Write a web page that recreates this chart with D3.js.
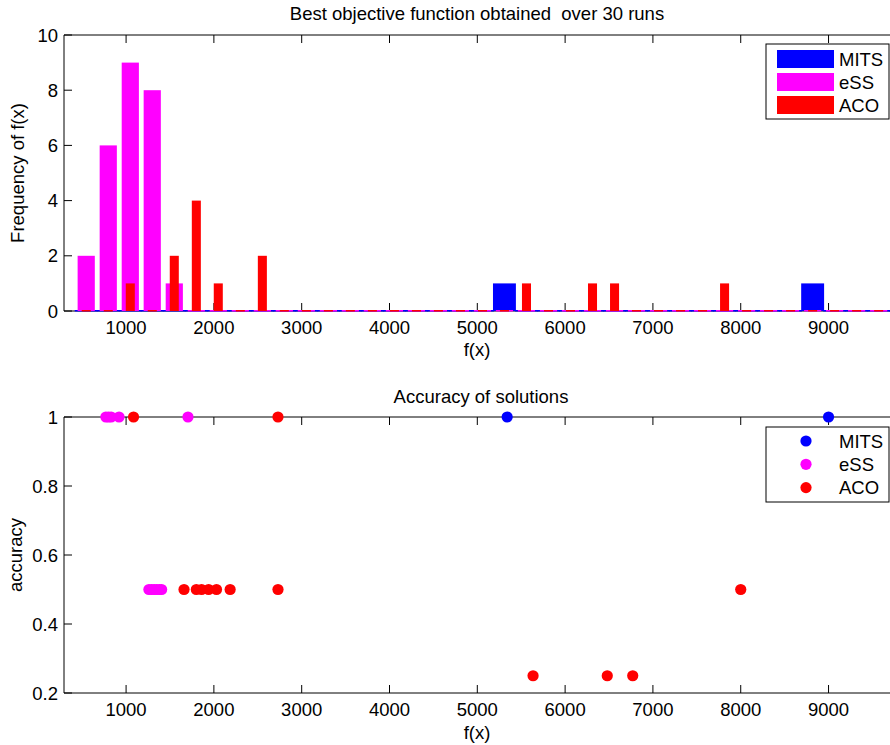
<!DOCTYPE html>
<html>
<head>
<meta charset="utf-8">
<script src="https://cdn.jsdelivr.net/npm/d3@7"></script>
<style>
  body { margin: 0; background: #fff; }
  svg { display: block; font-family: "Liberation Sans", Arial, sans-serif; }
</style>
</head>
<body>
<script>
// histogram bin centres of f(x)
var binCenters = [546, 797, 1048, 1298, 1549, 1800, 2050, 2301, 2552, 2802,
    3053, 3304, 3554, 3805, 4056, 4307, 4557, 4808, 5059, 5309,
    5560, 5811, 6061, 6312, 6563, 6813, 7064, 7315, 7565, 7816,
    8067, 8317, 8568, 8819, 9069, 9320, 9571, 9821];
// frequency per bin for each method
var mitsCounts = [0, 0, 0, 0, 0, 0, 0, 0, 0, 0, 0, 0, 0, 0, 0, 0, 0, 0, 0, 1,
    0, 0, 0, 0, 0, 0, 0, 0, 0, 0, 0, 0, 0, 1, 0, 0, 0, 0];
var essCounts = [2, 6, 9, 8, 1, 0, 0, 0, 0, 0, 0, 0, 0, 0, 0, 0, 0, 0, 0, 0,
    0, 0, 0, 0, 0, 0, 0, 0, 0, 0, 0, 0, 0, 0, 0, 0, 0, 0];
var acoCounts = [0, 0, 1, 0, 2, 4, 1, 0, 2, 0, 0, 0, 0, 0, 0, 0, 0, 0, 0, 0,
    1, 0, 0, 1, 1, 0, 0, 0, 0, 1, 0, 0, 0, 0, 0, 0, 0, 0];

// accuracy of solutions: f(x) and accuracy
var mitsFx = [5340, 9000];
var mitsAcc = [1, 1];
var essFx = [770, 800, 830, 920, 1705, 1260, 1290, 1320, 1350, 1380, 1405];
var essAcc = [1, 1, 1, 1, 1, 0.5, 0.5, 0.5, 0.5, 0.5, 0.5];
var acoFx = [1085, 2730, 1660, 1800, 1860, 1940, 2030, 2185, 2730, 8000, 5635, 6480, 6770];
var acoAcc = [1, 1, 0.5, 0.5, 0.5, 0.5, 0.5, 0.5, 0.5, 0.5, 0.25, 0.25, 0.25];

var xTicks = [1000, 2000, 3000, 4000, 5000, 6000, 7000, 8000, 9000];
var freqTicks = [0, 2, 4, 6, 8, 10];
var accTicks = [0.2, 0.4, 0.6, 0.8, 1];
var methods = ["MITS", "eSS", "ACO"];
var colors = ["#0000ff", "#ff00ff", "#ff0000"];

var width = 890, height = 745;
var fontSize = 18.5;
var tickLen = 8;

var svg = d3.select("body").append("svg")
    .attr("width", width)
    .attr("height", height);

var x = d3.scaleLinear().domain([293, 9700]).range([64, 890]);

// draws box-style axes with inward ticks (left, bottom, top)
function drawAxes(g, y, yTicks, yFmt, top, bottom) {
    g.append("line").attr("x1", 64).attr("x2", width).attr("y1", top).attr("y2", top)
        .attr("stroke", "#000");
    g.append("line").attr("x1", 64).attr("x2", 64).attr("y1", top).attr("y2", bottom)
        .attr("stroke", "#000");
    xTicks.forEach(function (t) {
        g.append("line").attr("x1", x(t)).attr("x2", x(t))
            .attr("y1", bottom).attr("y2", bottom - tickLen).attr("stroke", "#000");
        g.append("line").attr("x1", x(t)).attr("x2", x(t))
            .attr("y1", top).attr("y2", top + tickLen).attr("stroke", "#000");
        g.append("text").attr("x", x(t)).attr("y", bottom + 23)
            .attr("text-anchor", "middle").attr("font-size", fontSize).text(t);
    });
    yTicks.forEach(function (t) {
        g.append("line").attr("x1", 64).attr("x2", 64 + tickLen)
            .attr("y1", y(t)).attr("y2", y(t)).attr("stroke", "#000");
        g.append("text").attr("x", 58).attr("y", y(t)).attr("dy", "0.36em")
            .attr("text-anchor", "end").attr("font-size", fontSize).text(yFmt(t));
    });
}

//---------------- top: histogram ----------------
var yTop = d3.scaleLinear().domain([0, 10]).range([311, 35]);
var gTop = svg.append("g");
drawAxes(gTop, yTop, freqTicks, d3.format("d"), 35, 311);
gTop.append("line").attr("x1", 64).attr("x2", width).attr("y1", 311).attr("y2", 311)
    .attr("stroke", "#000");

var step = x(binCenters[1]) - x(binCenters[0]);
var barSeries = [
    { counts: mitsCounts, color: colors[0], w: step * 1.04 },
    { counts: essCounts, color: colors[1], w: step * 0.78 },
    { counts: acoCounts, color: colors[2], w: step * 0.41 }
];
barSeries.forEach(function (s) {
    var bins = binCenters.map(function (c, i) { return { c: c, n: s.counts[i] }; });
    gTop.append("g").selectAll("rect")
        .data(bins)
        .join("rect")
        .attr("x", function (d) { return x(d.c) - s.w / 2; })
        .attr("width", s.w)
        .attr("y", function (d) { return d.n > 0 ? yTop(d.n) : yTop(0) - 1; })
        .attr("height", function (d) { return d.n > 0 ? yTop(0) - yTop(d.n) : 1.5; })
        .attr("fill", s.color);
});

gTop.append("text").attr("x", 477).attr("y", 20).attr("text-anchor", "middle")
    .attr("font-size", fontSize).style("white-space", "pre")
    .text("Best objective function obtained  over 30 runs");
gTop.append("text").attr("x", 477).attr("y", 356).attr("text-anchor", "middle")
    .attr("font-size", fontSize).text("f(x)");
gTop.append("text").attr("transform", "translate(24,173) rotate(-90)")
    .attr("text-anchor", "middle").attr("font-size", fontSize).text("Frequency of f(x)");

// legend (bars)
var legTop = gTop.append("g");
legTop.append("rect").attr("x", 766).attr("y", 44).attr("width", 123).attr("height", 75)
    .attr("fill", "#fff").attr("stroke", "#000");
methods.forEach(function (m, i) {
    legTop.append("rect").attr("x", 777).attr("y", 50 + i * 23).attr("width", 57).attr("height", 18)
        .attr("fill", colors[i]);
    legTop.append("text").attr("x", 839).attr("y", 59 + i * 23).attr("dy", "0.36em")
        .attr("font-size", fontSize).text(m);
});

//---------------- bottom: accuracy scatter ----------------
var yBot = d3.scaleLinear().domain([0.2, 1]).range([693, 417]);
var gBot = svg.append("g");
drawAxes(gBot, yBot, accTicks, function (t) { return t === 1 ? "1" : d3.format(".1f")(t); }, 417, 693);
gBot.append("line").attr("x1", 64).attr("x2", width).attr("y1", 693).attr("y2", 693)
    .attr("stroke", "#000");

var pointSeries = [
    { fx: mitsFx, acc: mitsAcc, color: colors[0] },
    { fx: essFx, acc: essAcc, color: colors[1] },
    { fx: acoFx, acc: acoAcc, color: colors[2] }
];
pointSeries.forEach(function (s) {
    gBot.append("g").selectAll("circle")
        .data(s.fx.map(function (f, i) { return [f, s.acc[i]]; }))
        .join("circle")
        .attr("cx", function (d) { return x(d[0]); })
        .attr("cy", function (d) { return yBot(d[1]); })
        .attr("r", 5.6)
        .attr("fill", s.color);
});

gBot.append("text").attr("x", 481).attr("y", 403).attr("text-anchor", "middle")
    .attr("font-size", fontSize).text("Accuracy of solutions");
gBot.append("text").attr("x", 477).attr("y", 739).attr("text-anchor", "middle")
    .attr("font-size", fontSize).text("f(x)");
gBot.append("text").attr("transform", "translate(22,555) rotate(-90)")
    .attr("text-anchor", "middle").attr("font-size", fontSize).text("accuracy");

// legend (markers)
var legBot = gBot.append("g");
legBot.append("rect").attr("x", 766).attr("y", 427).attr("width", 123).attr("height", 75)
    .attr("fill", "#fff").attr("stroke", "#000");
methods.forEach(function (m, i) {
    legBot.append("circle").attr("cx", 806).attr("cy", 441 + i * 23.3).attr("r", 5.6)
        .attr("fill", colors[i]);
    legBot.append("text").attr("x", 839).attr("y", 441 + i * 23.3).attr("dy", "0.36em")
        .attr("font-size", fontSize).text(m);
});
</script>
</body>
</html>
